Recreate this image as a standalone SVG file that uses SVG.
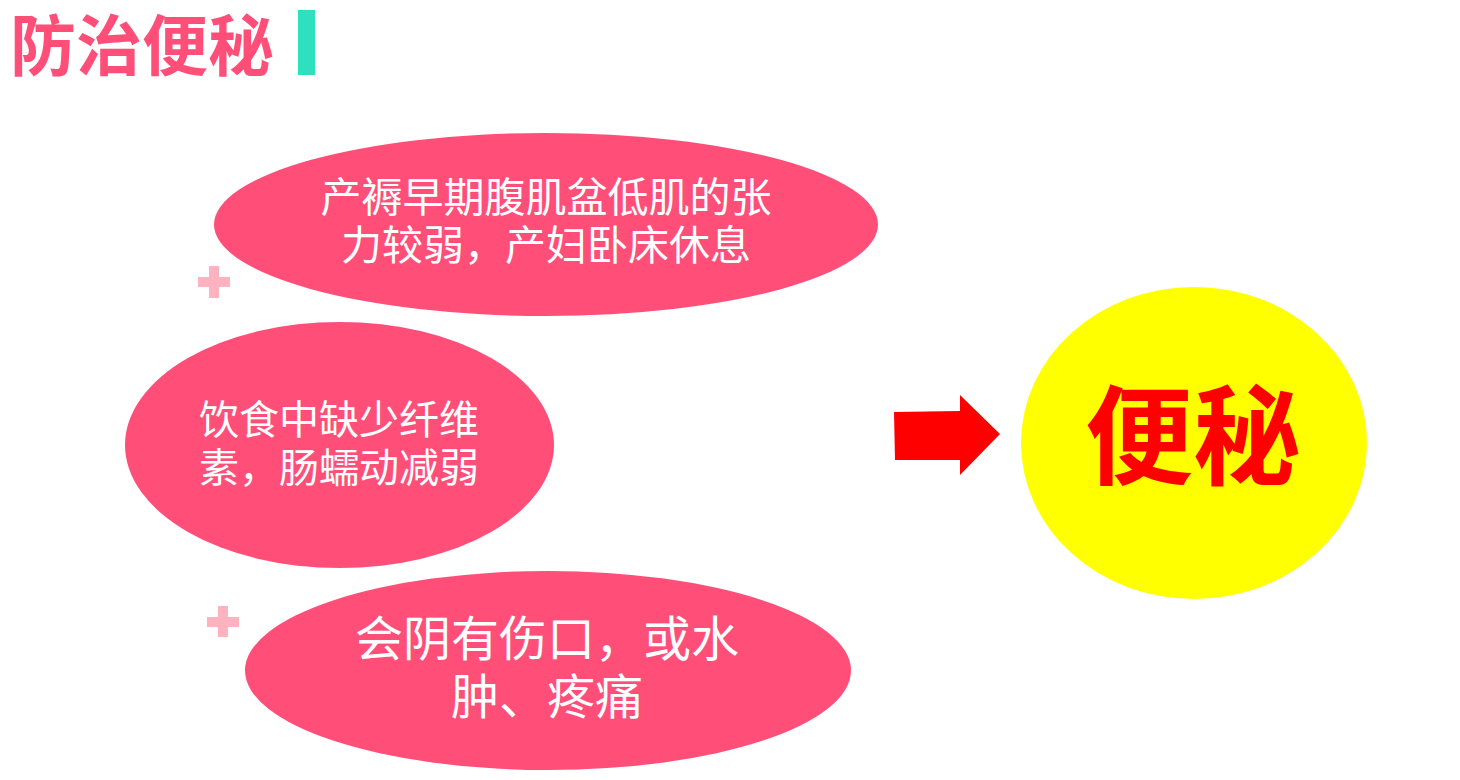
<svg xmlns="http://www.w3.org/2000/svg" width="1460" height="780" viewBox="0 0 1460 780">
<style>
.cjk{font-family:"Noto Sans CJK SC","Noto Sans CJK JP",sans-serif;}
.bubble{fill:#FF4F79;}
.lbl{fill:#FFFFFF;text-anchor:middle;}
.plus{fill:#FFB3C1;}
</style>
<rect width="1460" height="780" fill="#FFFFFF"/>
<g id="title">
<text class="cjk" x="10" y="70" font-size="66" font-weight="700" fill="#FF4F79">防治便秘</text>
<rect x="298" y="10" width="17" height="65" fill="#2EE0BE"/>
</g>
<g id="node1">
<ellipse class="bubble" cx="546" cy="224.5" rx="332" ry="91.5"/>
<text class="cjk lbl" font-size="41"><tspan x="546" y="212">产褥早期腹肌盆低肌的张</tspan><tspan x="546" y="260">力较弱，产妇卧床休息</tspan></text>
</g>
<g id="node2">
<ellipse class="bubble" cx="339.5" cy="445" rx="214.5" ry="123"/>
<text class="cjk lbl" font-size="40"><tspan x="339" y="434">饮食中缺少纤维</tspan><tspan x="339" y="482">素，肠蠕动减弱</tspan></text>
</g>
<g id="node3">
<ellipse class="bubble" cx="548" cy="670.5" rx="303" ry="99.5"/>
<text class="cjk lbl" font-size="48"><tspan x="547" y="656">会阴有伤口，或水</tspan><tspan x="547" y="714">肿、疼痛</tspan></text>
</g>
<g id="plus1">
<rect class="plus" x="198" y="277" width="32" height="10"/>
<rect class="plus" x="209" y="266" width="10" height="32"/>
</g>
<g id="plus2">
<rect class="plus" x="207" y="617" width="32" height="10"/>
<rect class="plus" x="218" y="606" width="10" height="31"/>
</g>
<g id="result">
<ellipse cx="1194" cy="443" rx="173" ry="156" fill="#FFFF00"/>
<text class="cjk" x="1193" y="476" font-size="108" font-weight="700" fill="#FF0000" text-anchor="middle">便秘</text>
</g>
<g id="connectors">
<polygon points="894,412 960,411 960,395 1000,434 960,475 960,460 895,460" fill="#FF0000"/>
</g>
</svg>
